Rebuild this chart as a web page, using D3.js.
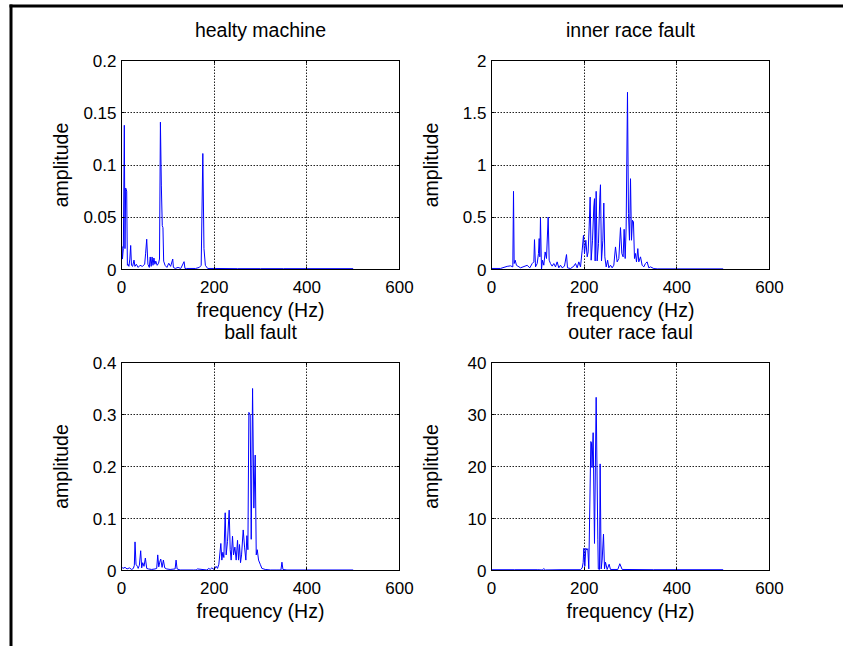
<!DOCTYPE html>
<html><head><meta charset="utf-8">
<script src="https://cdn.jsdelivr.net/npm/d3@7"></script>
<style>
body{margin:0;background:#fff}
svg{display:block}
text{font-family:"Liberation Sans",Arial,Helvetica,sans-serif;fill:#000}
</style>
</head><body>
<svg id="c" width="843" height="646"></svg>
<script>
// ---- data ----
const titles = ["healty machine", "inner race fault", "ball fault", "outer race faul"];
const xLabel = "frequency (Hz)";
const yLabel = "amplitude";
const xTicks = [0, 200, 400, 600];
const yTicksHealthy = [0, 0.05, 0.1, 0.15, 0.2];
const yTicksInner = [0, 0.5, 1, 1.5, 2];
const yTicksBall = [0, 0.1, 0.2, 0.3, 0.4];
const yTicksOuter = [0, 10, 20, 30, 40];

const healthyFreq = [0,1,2,4,6.1,7.5,9,11.2,12.7,14,16,18,19.8,21.5,24,27,29,32,36,40,45,50,52,54.4,57,60,62,64,66,68,70,72,74,77,80,82,84,86,88,89.5,91,94,98,102,106,110.6,112,116,122,128,135,137,140,150,160,168,172,175.5,178,181,186,200,250,300,350,400,450,500];
const healthyAmp = [0.015,0.022,0.01,0.02,0.138,0.02,0.078,0.075,0.004,0.005,0.003,0.01,0.023,0.004,0.003,0.009,0.003,0.005,0.002,0.004,0.003,0.005,0.015,0.029,0.005,0.002,0.012,0.003,0.012,0.004,0.011,0.005,0.008,0.004,0.006,0.01,0.141,0.08,0.042,0.04,0.008,0.004,0.002,0.006,0.003,0.01,0.002,0.001,0.002,0.001,0.0075,0.001,0.001,0.001,0.001,0.002,0.004,0.111,0.02,0.004,0.001,0.001,0.0008,0.0008,0.0008,0.0008,0.0008,0.0008];

const innerFreq = [0,19.4,33.8,41.0,46.0,47.5,48.9,51.1,53.9,62.6,77.0,82.7,87.8,91.4,92.8,95.0,98.6,101.4,102.9,104.3,105.7,107.9,110.1,112.9,115.8,118.7,122.3,124.5,127.3,130.9,134.5,138.1,141.7,145.3,148.9,152.5,157.5,161.9,164.0,170.5,177.7,181.3,184.9,188.5,192.1,195.7,198.5,200.7,203.6,206.5,208.6,210.8,212.9,215.1,218.0,220.8,222.3,223.7,225.9,228.0,230.9,233.8,235.2,237.4,240.3,242.4,244.6,247.5,250.6,253.2,256.9,260.4,264.0,267.6,271.2,274.8,278.4,281.3,284.1,286.3,288.5,290.6,293.5,295.6,297.8,300.0,302.1,304.3,306.4,308.6,310.8,312.9,315.8,317.9,321.6,325.1,328.7,332.3,335.9,339.5,343.1,350.3,357.5,400,450,500];
const innerAmp = [0.01,0.01,0.03,0.035,0.025,0.748,0.057,0.089,0.04,0.016,0.04,0.016,0.057,0.073,0.286,0.025,0.057,0.153,0.296,0.121,0.493,0.0,0.089,0.041,0.168,0.105,0.502,0.089,0.057,0.032,0.057,0.025,0.073,0.016,0.041,0.016,0.032,0.143,0.016,0.009,0.032,0.057,0.016,0.073,0.025,0.184,0.327,0.153,0.28,0.121,0.168,0.407,0.693,0.089,0.28,0.598,0.678,0.082,0.748,0.082,0.248,0.693,0.811,0.082,0.28,0.636,0.121,0.025,0.089,0.016,0.041,0.016,0.041,0.216,0.073,0.105,0.401,0.153,0.121,0.385,0.105,0.407,1.696,0.535,0.28,0.869,0.28,0.471,0.455,0.105,0.153,0.073,0.2,0.073,0.121,0.041,0.025,0.057,0.073,0.016,0.025,0.009,0.006,0.006,0.006,0.006];

const ballFreq = [0,3,7.6,12,17,22,25.6,27.7,29.2,31.3,34.2,36,38.6,41.4,43.6,45.8,48.6,51.5,54.4,58,65.2,72.4,76,78.2,80.4,82.5,84.7,87.6,90.4,93.3,97.6,104.9,115.7,117.8,120,126.5,155.3,161.1,164,184.1,188.5,191.3,194.9,200,204.3,207.2,210.1,214.4,216.6,218.7,220.9,223.8,225.9,228.8,232.4,234.6,236.7,239.6,241.8,244.7,247.5,250.4,252.6,254.7,256.9,259.1,262.7,265.6,268.4,270.6,272.8,274.9,277.8,280.0,282.9,285.7,288.6,290.8,293.0,295.8,299.4,303,310.2,321.1,335.5,344.1,346.3,348.4,357.1,400,500];
const ballAmp = [0.007,0.004,0.006,0.003,0.005,0.002,0.004,0.01,0.055,0.012,0.008,0.004,0.01,0.038,0.005,0.015,0.008,0.024,0.004,0.003,0.002,0.003,0.004,0.03,0.007,0.016,0.022,0.006,0.02,0.005,0.003,0.002,0.003,0.02,0.003,0.001,0.001,0.001,0.003,0.001,0.004,0.002,0.005,0.002,0.008,0.004,0.012,0.052,0.02,0.035,0.025,0.111,0.03,0.056,0.116,0.04,0.02,0.066,0.03,0.045,0.02,0.058,0.02,0.05,0.015,0.03,0.078,0.045,0.02,0.067,0.04,0.304,0.299,0.06,0.35,0.12,0.222,0.03,0.04,0.02,0.012,0.004,0.002,0.001,0.001,0.001,0.016,0.002,0.001,0.001,0.001];

const outerFreq = [0,50,100,109.3,112.9,116.5,150,192.1,195.7,197.8,199.3,201.4,203.6,205.7,207.9,210.0,214.4,215.8,217.0,219.4,222.3,225.9,229.5,230.5,233.1,234.5,236.7,238.8,241.7,243.9,246.0,249.6,253.9,256.8,272.6,276.9,282.0,350,400,500];
const outerAmp = [0.15,0.15,0.15,0.1,0.35,0.1,0.15,0.15,0.5,1.5,4.27,0.8,4.3,3.94,4.2,0.3,24.8,24.5,19.8,26.5,5.2,33.3,5.9,0.3,0.2,20.5,0.3,2.0,7.0,0.3,1.6,0.2,1.2,0.2,0.2,1.3,0.2,0.15,0.15,0.15];

// ---- layout ----
const svg = d3.select("#c");
const FONT_TICK = 17, FONT_LABEL = 19.5;

// page frame
svg.append("line").attr("x1", 11).attr("x2", 11).attr("y1", 4.5).attr("y2", 646)
  .attr("stroke", "#000").attr("stroke-width", 3);
svg.append("line").attr("x1", 9.5).attr("x2", 843).attr("y1", 6).attr("y2", 6)
  .attr("stroke", "#000").attr("stroke-width", 3);

const panels = [
  {title: titles[0], freq: healthyFreq, amp: healthyAmp, yTicks: yTicksHealthy, box: [121.5, 60.5, 399.5, 269.5]},
  {title: titles[1], freq: innerFreq, amp: innerAmp, yTicks: yTicksInner, box: [491.5, 60.5, 769.5, 269.5]},
  {title: titles[2], freq: ballFreq, amp: ballAmp, yTicks: yTicksBall, box: [121.5, 362.5, 399.5, 570.5]},
  {title: titles[3], freq: outerFreq, amp: outerAmp, yTicks: yTicksOuter, box: [491.5, 362.5, 769.5, 570.5]}
];

panels.forEach(p => {
  const [x0, y0, x1, y1] = p.box;
  const x = d3.scaleLinear().domain([0, 600]).range([x0, x1]);
  const y = d3.scaleLinear().domain([p.yTicks[0], p.yTicks[p.yTicks.length - 1]]).range([y1, y0]);
  const g = svg.append("g");
  const crisp = v => Math.round(v - 0.5) + 0.5;

  // grid
  xTicks.slice(1, -1).forEach(t => {
    g.append("line").attr("x1", crisp(x(t))).attr("x2", crisp(x(t))).attr("y1", y0).attr("y2", y1)
      .attr("stroke", "#222").attr("stroke-width", 1).attr("stroke-dasharray", "1.5,1.5");
  });
  p.yTicks.slice(1, -1).forEach(t => {
    g.append("line").attr("y1", crisp(y(t))).attr("y2", crisp(y(t))).attr("x1", x0).attr("x2", x1)
      .attr("stroke", "#222").attr("stroke-width", 1).attr("stroke-dasharray", "1.5,1.5");
  });

  // data
  const pts = d3.zip(p.freq, p.amp);
  g.append("path").datum(pts)
    .attr("d", d3.line().x(d => x(d[0])).y(d => y(d[1])))
    .attr("fill", "none").attr("stroke", "#0000ff").attr("stroke-width", 1);

  // box
  g.append("rect").attr("x", x0).attr("y", y0).attr("width", x1 - x0).attr("height", y1 - y0)
    .attr("fill", "none").attr("stroke", "#000").attr("stroke-width", 1);

  // tick marks (inward, all sides)
  const tl = 3;
  xTicks.forEach(t => {
    const xx = crisp(x(t));
    g.append("line").attr("x1", xx).attr("x2", xx).attr("y1", y1).attr("y2", y1 - tl).attr("stroke", "#000");
    g.append("line").attr("x1", xx).attr("x2", xx).attr("y1", y0).attr("y2", y0 + tl).attr("stroke", "#000");
  });
  p.yTicks.forEach(t => {
    const yy = crisp(y(t));
    g.append("line").attr("y1", yy).attr("y2", yy).attr("x1", x0).attr("x2", x0 + tl).attr("stroke", "#000");
    g.append("line").attr("y1", yy).attr("y2", yy).attr("x1", x1).attr("x2", x1 - tl).attr("stroke", "#000");
  });

  // tick labels
  xTicks.forEach(t => {
    g.append("text").attr("x", x(t)).attr("y", y1 + 23.5).attr("text-anchor", "middle")
      .attr("font-size", FONT_TICK).text(d3.format("~g")(t));
  });
  p.yTicks.forEach(t => {
    g.append("text").attr("x", x0 - 5).attr("y", y(t)).attr("dy", "0.36em").attr("text-anchor", "end")
      .attr("font-size", FONT_TICK).text(d3.format("~g")(t));
  });

  // labels
  g.append("text").attr("x", (x0 + x1) / 2).attr("y", y1 + 47.5).attr("text-anchor", "middle")
    .attr("font-size", FONT_LABEL).text(xLabel);
  g.append("text").attr("transform", `translate(${x0 - 54},${(y0 + y1) / 2}) rotate(-90)`)
    .attr("text-anchor", "middle").attr("font-size", FONT_LABEL).text(yLabel);
  g.append("text").attr("x", (x0 + x1) / 2).attr("y", y0 - 24).attr("text-anchor", "middle")
    .attr("font-size", FONT_LABEL).text(p.title);
});
</script>
</body></html>
